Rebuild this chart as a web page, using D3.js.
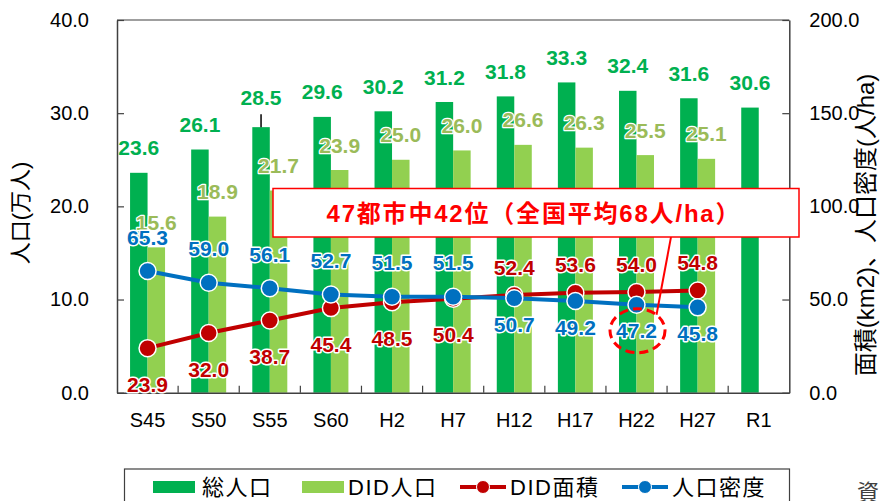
<!DOCTYPE html>
<html>
<head>
<meta charset="utf-8">
<script src="https://cdn.jsdelivr.net/npm/d3@7"></script>
<style>
  body { margin: 0; background: #fff; }
  svg { display: block; }
  text { font-family: "Liberation Sans", Arial, "Noto Sans CJK JP", sans-serif; }
</style>
</head>
<body>
<svg width="880" height="501"></svg>
<script>
// data
var categories = ["S45", "S50", "S55", "S60", "H2", "H7", "H12", "H17", "H22", "H27", "R1"];
var totalPop = [23.6, 26.1, 28.5, 29.6, 30.2, 31.2, 31.8, 33.3, 32.4, 31.6, 30.6];
var didPop   = [15.6, 18.9, 21.7, 23.9, 25.0, 26.0, 26.6, 26.3, 25.5, 25.1, null];
var didArea  = [23.9, 32.0, 38.7, 45.4, 48.5, 50.4, 52.4, 53.6, 54.0, 54.8, null];
var density  = [65.3, 59.0, 56.1, 52.7, 51.5, 51.5, 50.7, 49.2, 47.2, 45.8, null];
var leftTicks = [0, 10, 20, 30, 40];
var rightTicks = [0, 50, 100, 150, 200];
var legendNames = ["総人口", "DID人口", "DID面積", "人口密度"];
var calloutText = "47都市中42位（全国平均68人/ha）";
var highlightIndex = 8; // H22

var svg = d3.select("svg");
var pL = 117, pR = 789.3, pT = 20, pB = 392.7;

var cDark = "#00B050", cLight = "#92D050", cOlive = "#9BBB59",
    cRed = "#C00000", cBlue = "#0070C0", axisCol = "#404040";

var x = d3.scaleBand().domain(categories).range([pL, pR]).padding(0);
var groupW = 35;
var xSub = d3.scaleBand().domain(["total", "did"]).range([0, groupW]);
var yL = d3.scaleLinear().domain([0, 40]).range([pB, pT]);
var yR = d3.scaleLinear().domain([0, 200]).range([pB, pT]);
function cx(i) { return x(categories[i]) + x.bandwidth() / 2; }
function barX(i, key) { return x(categories[i]) + (x.bandwidth() - groupW) / 2 + xSub(key); }

// bars
var rows = categories.map(function(c, i) {
  return {i: i, total: totalPop[i], did: didPop[i], area: didArea[i], dens: density[i]};
});

svg.append("g").selectAll("rect")
  .data(rows).enter().append("rect")
    .attr("x", function(d) { return barX(d.i, "total"); })
    .attr("width", xSub.bandwidth())
    .attr("y", function(d) { return yL(d.total); })
    .attr("height", function(d) { return pB - yL(d.total); })
    .attr("fill", cDark);

svg.append("g").selectAll("rect")
  .data(rows.filter(function(d) { return d.did != null; })).enter().append("rect")
    .attr("x", function(d) { return barX(d.i, "did"); })
    .attr("width", xSub.bandwidth())
    .attr("y", function(d) { return yL(d.did); })
    .attr("height", function(d) { return pB - yL(d.did); })
    .attr("fill", cLight);

// frame + axes
svg.append("line").attr("x1", pL).attr("x2", pR).attr("y1", pT).attr("y2", pT)
  .attr("stroke", axisCol).attr("stroke-width", 1.2);

var gl = svg.append("g").attr("transform", "translate(" + pL + ",0)")
  .call(d3.axisLeft(yL).tickValues(leftTicks).tickFormat(d3.format(".1f"))
    .tickSizeInner(-7).tickSizeOuter(0).tickPadding(28));
var gr = svg.append("g").attr("transform", "translate(" + pR + ",0)")
  .call(d3.axisRight(yR).tickValues(rightTicks).tickFormat(d3.format(".1f"))
    .tickSizeInner(-7).tickSizeOuter(0).tickPadding(20));
var gb = svg.append("g").attr("transform", "translate(0," + pB + ")")
  .call(d3.axisBottom(x).tickSize(0).tickPadding(20));

[gl, gr, gb].forEach(function(g) {
  g.selectAll("path").attr("stroke", axisCol).attr("stroke-width", 1.5);
  g.selectAll("line").attr("stroke", axisCol).attr("stroke-width", 1.2);
  g.selectAll("text").attr("font-size", 20).attr("fill", "#000")
    .attr("font-family", "'Liberation Sans', Arial, sans-serif");
});

// category boundary ticks
svg.append("g").selectAll("line")
  .data(categories.slice(1)).enter().append("line")
    .attr("x1", function(d) { return x(d); }).attr("x2", function(d) { return x(d); })
    .attr("y1", pB).attr("y2", pB - 7)
    .attr("stroke", axisCol).attr("stroke-width", 1.2);

// axis titles
svg.append("text")
  .attr("transform", "translate(20,213) rotate(-90)")
  .attr("text-anchor", "middle").attr("dy", "0.35em")
  .attr("font-size", 22).attr("font-family", "'Noto Sans CJK JP', sans-serif")
  .text("人口(万人)");
svg.append("text")
  .attr("transform", "translate(866,225) rotate(-90)")
  .attr("text-anchor", "middle").attr("dy", "0.35em")
  .attr("font-size", 24).attr("font-family", "'Noto Sans CJK JP', sans-serif")
  .text("面積(km2)、人口密度(人/ha)");

// lines
var areaPts = rows.filter(function(d) { return d.area != null; });
var densPts = rows.filter(function(d) { return d.dens != null; });

function drawSeries(pts, key, color) {
  var line = d3.line().x(function(d) { return cx(d.i); }).y(function(d) { return yR(d[key]); });
  svg.append("path").datum(pts).attr("d", line)
    .attr("fill", "none").attr("stroke", color).attr("stroke-width", 4);
  svg.append("g").selectAll("circle").data(pts).enter().append("circle")
    .attr("cx", function(d) { return cx(d.i); })
    .attr("cy", function(d) { return yR(d[key]); })
    .attr("r", 8.5).attr("fill", color)
    .attr("stroke", "#fff").attr("stroke-width", 1.5);
}
drawSeries(areaPts, "area", cRed);
drawSeries(densPts, "dens", cBlue);

// value labels
function labels(data, xf, yf, fill, halo) {
  svg.append("g").selectAll("text").data(data).enter().append("text")
    .attr("x", xf).attr("y", yf).attr("dy", "0.36em")
    .attr("text-anchor", "middle")
    .attr("font-size", 21).attr("font-weight", "bold")
    .attr("fill", fill)
    .attr("stroke", "#fff").attr("stroke-width", halo).attr("stroke-linejoin", "round")
    .attr("paint-order", "stroke")
    .text(function(d) { return d.v.toFixed(1); });
}

labels(rows.map(function(d) { return {i: d.i, v: d.total}; }),
  function(d) { return barX(d.i, "total") + xSub.bandwidth() / 2; },
  function(d) { return yL(d.v) - (d.i === 2 ? 30 : 25); }, cDark, 0);

// leader at S55
svg.append("line")
  .attr("x1", barX(2, "total") + xSub.bandwidth() / 2).attr("x2", barX(2, "total") + xSub.bandwidth() / 2)
  .attr("y1", yL(totalPop[2]) - 13).attr("y2", yL(totalPop[2]))
  .attr("stroke", "#000").attr("stroke-width", 1.5);

labels(rows.filter(function(d) { return d.did != null; }).map(function(d) { return {i: d.i, v: d.did}; }),
  function(d) { return barX(d.i, "did") + xSub.bandwidth() / 2; },
  function(d) { return yL(d.v) - 25; }, cOlive, 2.5);

labels(areaPts.map(function(d) { return {i: d.i, v: d.area}; }),
  function(d) { return cx(d.i); },
  function(d) { return yR(d.v) + (d.i < 6 ? 36 : -28); }, cRed, 3);

labels(densPts.map(function(d) { return {i: d.i, v: d.dens}; }),
  function(d) { return cx(d.i); },
  function(d) { return yR(d.v) + (d.i < 6 ? -34 : 26); }, cBlue, 3);

// callout
var hx = cx(highlightIndex), hy = yR(density[highlightIndex]) + 26;
svg.append("ellipse")
  .attr("cx", hx + 1).attr("cy", hy).attr("rx", 27.5).attr("ry", 22)
  .attr("fill", "none").attr("stroke", "#FF0000").attr("stroke-width", 3)
  .attr("stroke-dasharray", "9,5");
svg.append("line")
  .attr("x1", 671).attr("y1", 237).attr("x2", hx + 20).attr("y2", hy - 16)
  .attr("stroke", "#FF0000").attr("stroke-width", 2);
svg.append("rect")
  .attr("x", 273).attr("y", 188.5).attr("width", 526).attr("height", 48.5)
  .attr("fill", "#fff").attr("stroke", "#FF0000").attr("stroke-width", 1.5);
svg.append("text")
  .attr("x", 533).attr("y", 213).attr("dy", "0.36em")
  .attr("text-anchor", "middle")
  .attr("font-size", 24).attr("font-weight", "bold")
  .attr("font-family", "'Noto Sans CJK JP', sans-serif")
  .attr("fill", "#FF0000")
  .attr("textLength", 413).attr("lengthAdjust", "spacing")
  .text(calloutText);

// legend
var lg = svg.append("g");
lg.append("rect").attr("x", 124.5).attr("y", 469).attr("width", 665).attr("height", 40)
  .attr("fill", "#fff").attr("stroke", axisCol).attr("stroke-width", 1.2);
var ly = 487;
lg.append("rect").attr("x", 153).attr("y", ly - 6).attr("width", 42).attr("height", 12).attr("fill", cDark);
lg.append("rect").attr("x", 302).attr("y", ly - 6).attr("width", 42).attr("height", 12).attr("fill", cLight);
[[460, cRed], [622, cBlue]].forEach(function(p) {
  lg.append("line").attr("x1", p[0]).attr("x2", p[0] + 46).attr("y1", ly).attr("y2", ly)
    .attr("stroke", p[1]).attr("stroke-width", 4);
  lg.append("circle").attr("cx", p[0] + 23).attr("cy", ly).attr("r", 6.5)
    .attr("fill", p[1]).attr("stroke", "#fff").attr("stroke-width", 1);
});
var legendX = [202, 348, 510, 672];
lg.selectAll("text").data(legendNames).enter().append("text")
  .attr("x", function(d, i) { return legendX[i]; })
  .attr("y", ly).attr("dy", "0.36em")
  .attr("font-size", 22).attr("letter-spacing", 1.5)
  .text(function(d) { return d; });

// cut-off source note
svg.append("text").attr("x", 857).attr("y", 500)
  .attr("font-size", 22).attr("fill", "#404040")
  .attr("font-family", "'Noto Sans CJK JP', sans-serif")
  .text("資");
</script>
</body>
</html>
